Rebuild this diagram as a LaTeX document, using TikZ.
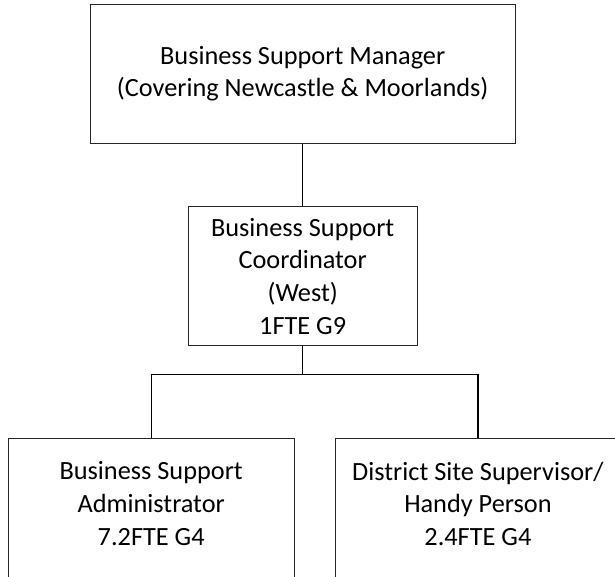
\documentclass[tikz,border=0pt]{standalone}
\usepackage{fontspec}
\setmainfont{Carlito}
\usetikzlibrary{positioning}

\begin{document}
\begin{tikzpicture}[
    x=1pt, y=-1pt,
    post/.style={draw=black!85, line width=0.8pt, align=center, inner sep=0pt, font=\fontsize{26.3}{32.7}\selectfont},
    role/.style={align=center, inner sep=0pt, font=\fontsize{26.3}{32.7}\selectfont},
    link/.style={draw, line width=1.2pt}
]
\clip (0,0) rectangle (615,577);

% Define node positions
\node[post, minimum width=425pt, minimum height=139pt] (mgr) at (302.7,73.8) {Business Support Manager\\(Covering Newcastle \& Moorlands)};
\node[post, minimum width=229pt, minimum height=139pt, below=62.7pt of mgr] (coord) {Business Support\\Coordinator\\(West)\\1FTE G9};
\node[post, anchor=north, minimum width=285.7pt, minimum height=160pt] (admin) at (151.2,437.7) {};
\node[post, anchor=north, minimum width=285.7pt, minimum height=160pt] (site) at (477.9,437.7) {};

% Add texts of the lower boxes
\node[role, below=24pt of admin.north] (admintext) {Business Support\\Administrator\\7.2FTE G4};
\node[role, below=24pt of site.north] (sitetext) {District Site Supervisor/\\Handy Person\\2.4FTE G4};

% Draw reporting lines
\draw[link] (mgr) -- (coord);
\draw[link] (coord.south) -- ++(0,28.3) coordinate (bus);
\draw[link] (bus) -| (admin.north);
\draw[link] (bus) -| (site.north);

\end{tikzpicture}
\end{document}
